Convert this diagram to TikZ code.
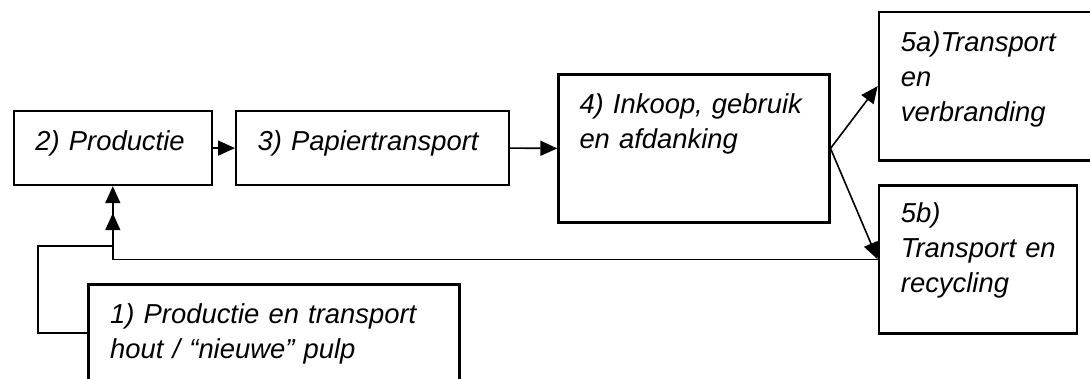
\documentclass[tikz,border=0pt]{standalone}
\usepackage{fontspec}
\setmainfont{Liberation Sans}
\usetikzlibrary{arrows.meta,calc}
\begin{document}
\begin{tikzpicture}[x=1pt,y=-1pt,
  boxnode/.style={draw=black,line width=2.2pt,anchor=north west,inner sep=0pt,rectangle},
  txt/.style={anchor=base west,inner sep=0pt,text width=330pt,align=left,
    font=\fontsize{27.4}{35}\selectfont\itshape},
  conn/.style={draw=black,line width=1.6pt},
  arr/.style={conn,-{Triangle[length=17pt,width=15pt]}}]
\clip (0,0) rectangle (1090,378);
\fill[white] (0,0) rectangle (1090,378);
% boxes
\node[boxnode,minimum width=198pt,minimum height=74pt] (b2) at (12.7,110) {};
\node[boxnode,minimum width=273pt,minimum height=74pt] (b3) at (235,110) {};
\node[boxnode,minimum width=271pt,minimum height=148pt] (b4) at (557.3,73.3) {};
\node[boxnode,minimum width=240pt,minimum height=148.6pt] (b5a) at (877.7,10.7) {};
\node[boxnode,minimum width=198pt,minimum height=148pt] (b5b) at (877.7,184.3) {};
\node[boxnode,minimum width=371pt,minimum height=97pt] (b1) at (87.3,283.3) {};
% texts
\node[txt] (t2) at ($(b2.north west)+(22.5,40.5)$) {2) Productie};
\node[txt] (t3) at ($(b3.north west)+(22.5,40.5)$) {3) Papiertransport};
\node[txt] (t4) at ($(b4.north west)+(22,40)$) {4) Inkoop, gebruik\\en afdanking};
\node[txt] (t5a) at ($(b5a.north west)+(23,41)$) {5a)Transport\\en\\verbranding};
\node[txt] (t5b) at ($(b5b.north west)+(23,38.5)$) {5b)\\Transport en\\recycling};
\node[txt] (t1) at ($(b1.north west)+(22.7,40)$) {1) Productie en transport\\hout / “nieuwe” pulp};
% connectors
\draw[arr] (b2.east) -- (b3.west);
\draw[arr] (b3.east) -- (b4.west);
\draw[arr] (b4.east) -- (b5a.west);
\draw[arr] (b4.east) -- (b5b.west);
\draw[arr] (b5b.west) -| (b2.south);
\coordinate (c1) at (37.7,246);
\coordinate (c2) at ($(b2.south)+(0,27)$);
\draw[arr] (b1.west) -| (c1) -- (b2.south |- c1) -- (c2);
\end{tikzpicture}
\end{document}
